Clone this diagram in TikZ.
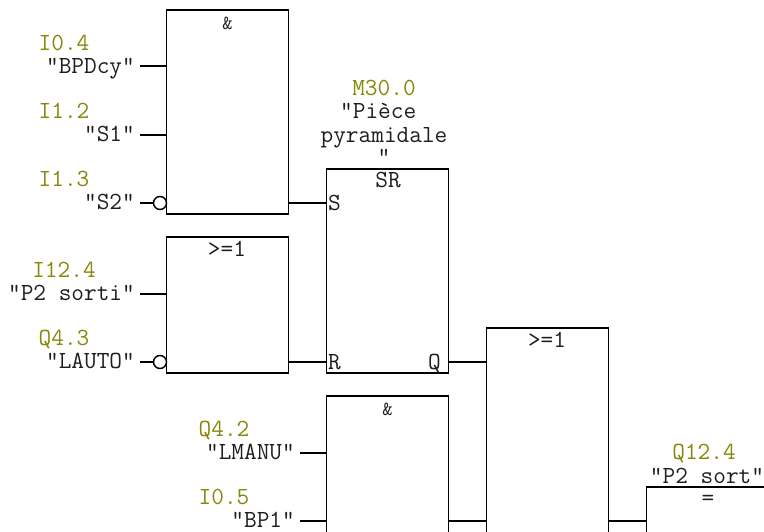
\documentclass[tikz,border=0pt]{standalone}
\usepackage{fontspec}
\definecolor{addrcol}{RGB}{135,135,10}
\definecolor{namecol}{RGB}{30,30,30}
\tikzset{
  gate/.style={draw=black, fill=white, line width=1.5pt, minimum width=122pt, inner sep=0pt, outer sep=0pt, anchor=north west},
  wire/.style={draw=black, line width=1.8pt},
  negpin/.style={circle, draw=black, fill=white, line width=1.5pt, minimum size=13pt, inner sep=0pt, outer sep=0pt},
  addr/.style={text=addrcol, font=\ttfamily\fontsize{24.6}{26}\selectfont, text height=16pt, text depth=2pt, inner sep=0pt},
  tag/.style={text=namecol, font=\ttfamily\fontsize{24.6}{26}\selectfont, text height=16pt, text depth=2pt, inner sep=0pt, anchor=east},
  head/.style={text=namecol, font=\ttfamily\fontsize{24.6}{26}\selectfont, text height=16pt, text depth=2pt, inner sep=0pt},
  amp/.style={text=namecol, font=\ttfamily\fontsize{20}{22}\selectfont, inner sep=0pt}
}
\begin{document}
\begin{tikzpicture}[x=1pt,y=-1pt]
\useasboundingbox (0,0) rectangle (764,531);
% boxes
\node (andA) [gate, minimum height=204pt] at (166.5,10) {};
\node (orB) [gate, minimum height=136pt] at (166.5,237) {};
\node (srC) [gate, minimum height=204pt] at (326.5,169) {};
\node (andD) [gate, minimum height=204pt] at (326.5,396) {};
\node (orE) [gate, minimum height=272pt] at (486.5,328) {};
\node (eqF) [gate, minimum height=204pt] at (646.5,487) {};
% box titles
\node (andAtitle) [amp] at (227.5,23) {\&};
\node (orBtitle) [head] at (227,249) {>=1};
\node (srCtitle) [head] at (388,180) {SR};
\node (andDtitle) [amp] at (387.5,409) {\&};
\node (orEtitle) [head] at (547,340) {>=1};
\node (eqFtitle) [head] at (708,498) {=};
\node (pinS) [head, anchor=west] at (328,203) {S};
\node (pinR) [head, anchor=west] at (328,362) {R};
\node (pinQ) [head, anchor=east] at (441,362) {Q};
% free wire ends
\coordinate (inA1) at (140,66);
\coordinate (inA2) at (140,135);
\coordinate (inA3) at (140,203);
\coordinate (inB1) at (140,294);
\coordinate (inB2) at (140,362);
\coordinate (inD1) at (300,453);
\coordinate (inD2) at (300,521);
\coordinate (outA) at (288,203);
\coordinate (outB) at (288,362);
\coordinate (outC) at (448,362);
\coordinate (outD) at (448,521);
\coordinate (outE) at (608,521);
\node (negA) [negpin] at (160,203) {};
\node (negB) [negpin] at (160,362) {};
% wires
\draw [wire] (inA1) -- (inA1 -| andA.west);
\draw [wire] (inA2) -- (inA2 -| andA.west);
\draw [wire] (inA3) -- (negA);
\draw [wire] (inB1) -- (inB1 -| orB.west);
\draw [wire] (inB2) -- (negB);
\draw [wire] (inD1) -- (inD1 -| andD.west);
\draw [wire] (inD2) -- (inD2 -| andD.west);
\draw [wire] (outA) -- (outA -| srC.west);
\draw [wire] (outB) -- (outB -| srC.west);
\draw [wire] (outC) -- (outC -| orE.west);
\draw [wire] (outD) -- (outD -| orE.west);
\draw [wire] (outE) -- (outE -| eqF.west);
% operands
\node (addrA1) [addr] at (64,43) {I0.4};
\node (tagA1) [tag] at (135,66) {"BPDcy"};
\node (addrA2) [addr] at (64,111) {I1.2};
\node (tagA2) [tag] at (135,134) {"S1"};
\node (addrA3) [addr] at (64,179) {I1.3};
\node (tagA3) [tag] at (135,202) {"S2"};
\node (addrB1) [addr] at (64,270) {I12.4};
\node (tagB1) [tag] at (135,293) {"P2 sorti"};
\node (addrB2) [addr] at (64,338) {Q4.3};
\node (tagB2) [tag] at (135,361) {"LAUTO"};
\node (addrD1) [addr] at (224,429) {Q4.2};
\node (tagD1) [tag] at (295,452) {"LMANU"};
\node (addrD2) [addr] at (224,497) {I0.5};
\node (tagD2) [tag] at (295,520) {"BP1"};
\node (addrC) [addr] at (384,88) {M30.0};
\node (tagC1) [head, anchor=west] at (340,111) {"Pièce};
\node (tagC2) [head] at (384,135) {pyramidale};
\node (tagC3) [head] at (384,157) {"};
\node (addrF) [addr] at (704,452) {Q12.4};
\node (tagF) [head] at (707,476) {"P2 sort"};
\end{tikzpicture}
\end{document}
